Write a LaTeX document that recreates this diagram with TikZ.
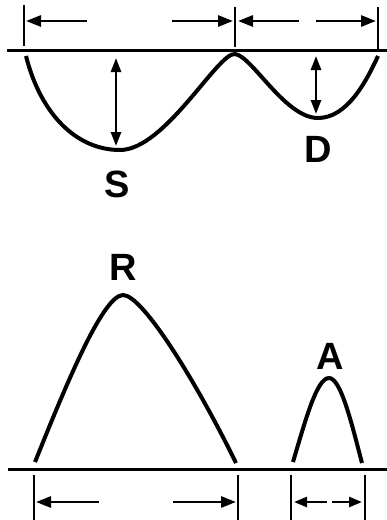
\documentclass[tikz,border=0pt]{standalone}
\usepackage{fontspec}
\setmainfont{Liberation Sans}
\usetikzlibrary{arrows.meta}
\begin{document}
\begin{tikzpicture}[x=1pt,y=-1pt,
  base/.style={line width=3pt},
  curve/.style={line width=4pt},
  tick/.style={line width=2.4pt},
  dim/.style={line width=2.8pt,-{Triangle[length=15pt,width=11pt]}},
  dimboth/.style={line width=2.6pt,{Triangle[length=14pt,width=10pt]}-{Triangle[length=14pt,width=10pt]}},
  dimsmall/.style={line width=2.6pt,-{Triangle[length=13pt,width=10pt]}},
  lbl/.style={font=\fontsize{38}{38}\selectfont\bfseries,inner sep=0pt}]
\useasboundingbox (0,0) rectangle (387,520);
% ---- top part ----
\coordinate (tl) at (7,50); \coordinate (tr) at (387,50);
\draw[base] (tl) -- (tr);
\coordinate (t1a) at (24,5); \coordinate (t1b) at (24,46);
\coordinate (t2a) at (235,7); \coordinate (t2b) at (235,47);
\coordinate (t3a) at (378,7); \coordinate (t3b) at (378,50);
\draw[tick] (t1a) -- (t1b);
\draw[tick] (t2a) -- (t2b);
\draw[tick] (t3a) -- (t3b);
\coordinate (a1s) at (87,21); \coordinate (a1e) at (26,21);
\coordinate (a2s) at (172,21); \coordinate (a2e) at (233,21);
\coordinate (a3s) at (299,21); \coordinate (a3e) at (238,21);
\coordinate (a4s) at (316,21); \coordinate (a4e) at (376,21);
\draw[dim] (a1s) -- (a1e);
\draw[dim] (a2s) -- (a2e);
\draw[dim] (a3s) -- (a3e);
\draw[dim] (a4s) -- (a4e);
\coordinate (c0) at (26,56);
\coordinate (cS) at (120,150);
\coordinate (cP) at (235,54);
\coordinate (cD) at (318,118);
\coordinate (c4) at (378,56);
\draw[curve] (c0) .. controls (40,112) and (75,150) .. (cS)
  .. controls (165,150) and (218,52) .. (cP)
  .. controls (252,56) and (285,118) .. (cD)
  .. controls (347,118) and (366,82) .. (c4);
\coordinate (sA) at (116,58); \coordinate (sB) at (116,146);
\coordinate (dA) at (316,56); \coordinate (dB) at (316,114);
\draw[dimboth] (sA) -- (sB);
\draw[dimboth] (dA) -- (dB);
\node[lbl] (S) at (117,184) {S};
\node[lbl] (D) at (318,149) {D};
% ---- bottom part ----
\node[lbl] (R) at (123,267) {R};
\node[lbl] (A) at (330,356) {A};
\coordinate (r0) at (35,462); \coordinate (rP) at (123,295); \coordinate (r1) at (236,463);
\draw[curve] (r0) .. controls (62,395) and (102,295) .. (rP)
  .. controls (143,295) and (198,385) .. (r1);
\coordinate (q0) at (293,462); \coordinate (qP) at (329,378); \coordinate (q1) at (362,463);
\draw[curve] (q0) .. controls (306,418) and (317,378) .. (qP)
  .. controls (341,378) and (352,425) .. (q1);
\coordinate (bl) at (8,469); \coordinate (br) at (387,469);
\draw[base] (bl) -- (br);
\coordinate (b1a) at (34,475); \coordinate (b1b) at (34,520);
\coordinate (b2a) at (238,475); \coordinate (b2b) at (238,520);
\coordinate (b3a) at (291,475); \coordinate (b3b) at (291,520);
\coordinate (b4a) at (365,475); \coordinate (b4b) at (365,520);
\draw[tick] (b1a) -- (b1b);
\draw[tick] (b2a) -- (b2b);
\draw[tick] (b3a) -- (b3b);
\draw[tick] (b4a) -- (b4b);
\coordinate (e1s) at (99,502); \coordinate (e1e) at (36,502);
\coordinate (e2s) at (173,502); \coordinate (e2e) at (236,502);
\coordinate (e3s) at (327,502); \coordinate (e3e) at (294,502);
\coordinate (e4s) at (332,502); \coordinate (e4e) at (362,502);
\draw[dim] (e1s) -- (e1e);
\draw[dim] (e2s) -- (e2e);
\draw[dimsmall] (e3s) -- (e3e);
\draw[dimsmall] (e4s) -- (e4e);
\end{tikzpicture}
\end{document}
